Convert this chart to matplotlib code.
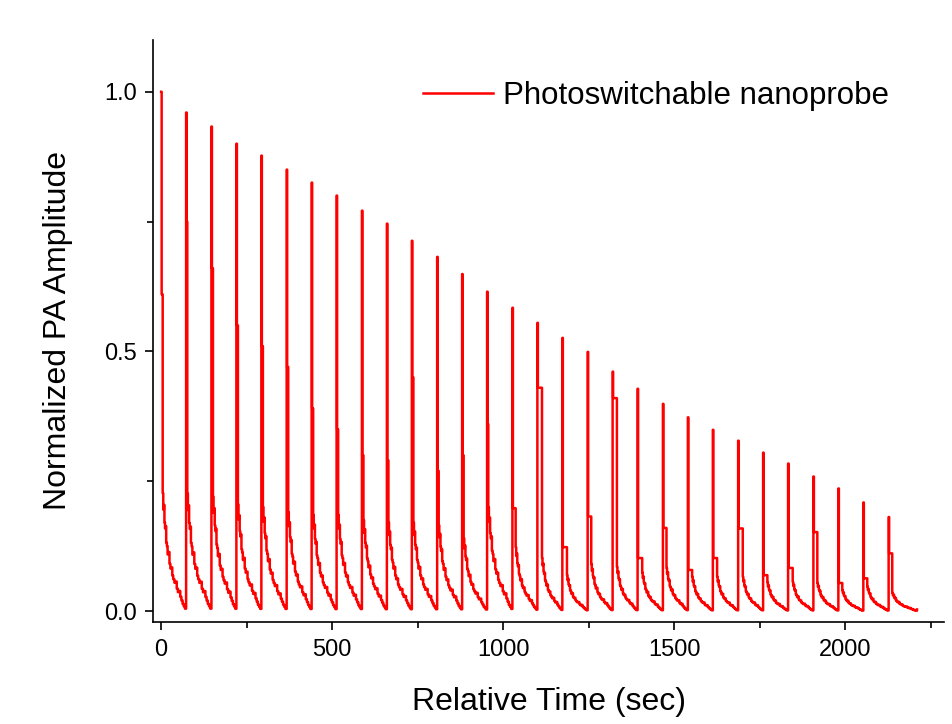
import numpy as np
import matplotlib
matplotlib.use("Agg")
import matplotlib.pyplot as plt
from matplotlib.ticker import MultipleLocator

plt.rcParams['font.family'] = ['Liberation Sans', 'DejaVu Sans']

# ---- data ----
# time of each switching cycle peak (sec)
peak_times = [0, 73, 147, 220, 293, 367, 440, 513, 587, 660, 733, 807, 880, 953,
              1027, 1100, 1173, 1247, 1320, 1393, 1467, 1540, 1613, 1687, 1760,
              1833, 1907, 1980, 2053, 2127]
# normalized PA amplitude at each peak
peak_values = [1.000, 0.960, 0.933, 0.900, 0.877, 0.850, 0.825, 0.800, 0.771, 0.746,
               0.713, 0.682, 0.649, 0.615, 0.584, 0.555, 0.526, 0.499, 0.461, 0.428,
               0.399, 0.373, 0.349, 0.328, 0.305, 0.284, 0.259, 0.236, 0.209, 0.181]
# level right after the spike (shoulder) and how long it lasts (sec)
shoulder_values = [0.61, 0.75, 0.66, 0.55, 0.51, 0.47, 0.39, 0.35, 0.30, 0.29,
                   0.45, 0.27, 0.30, 0.36, 0.198, 0.43, 0.123, 0.182, 0.41, 0.102,
                   0.160, 0.079, 0.102, 0.159, 0.069, 0.083, 0.152, 0.054, 0.063, 0.111]
shoulder_secs = [3, 2, 3, 3, 3, 3, 3, 3, 3, 3,
                 3, 3, 3, 2, 8, 12, 12, 9, 11, 12,
                 9, 11, 11, 12, 11, 12, 10, 10, 10, 9]
# level at the start of the slow tail
knee_values = [0.227, 0.226, 0.220, 0.205, 0.200, 0.190, 0.185, 0.185, 0.175, 0.170,
               0.170, 0.165, 0.140, 0.200, 0.123, 0.102, 0.069, 0.090, 0.085, 0.074,
               0.083, 0.066, 0.066, 0.066, 0.055, 0.056, 0.054, 0.040, 0.047, 0.035]
# shape of the slow tail (fraction of remaining cycle time, fraction of knee level)
tail_pos = [0, .025, .05, .075, .10, .125, .15, .18, .21, .25, .29, .33, .37, .41,
            .45, .50, .55, .60, .65, .70, .75, .80, .85, .90, .95]
tail_rel = [1.00, 0.86, 0.90, 0.75, 0.70, 0.72, 0.58, 0.55, 0.48, 0.50, 0.40, 0.36,
            0.37, 0.30, 0.27, 0.24, 0.25, 0.19, 0.16, 0.17, 0.12, 0.09, 0.06, 0.04, 0.02]
end_time = 2210
end_value = 0.003

# ---- assemble the stepped trace ----
t_all, v_all = [], []
n = len(peak_times)
for i in range(n):
    t0 = peak_times[i]
    t1 = peak_times[i + 1] if i + 1 < n else end_time
    t_all += [t0, t0 + 1.5]
    v_all += [peak_values[i], shoulder_values[i]]
    ks = t0 + 1.5 + shoulder_secs[i]
    span = t1 - ks
    for p, r in zip(tail_pos, tail_rel):
        t_all.append(ks + p * span)
        v_all.append(knee_values[i] * r)
t_all.append(end_time)
v_all.append(end_value)

fig = plt.figure(figsize=(9.52, 7.24), dpi=100)
ax = fig.add_axes([0.161, 0.141, 0.831, 0.804])
ax.plot(t_all, v_all, color='#ff0000', lw=1.8, drawstyle='steps-post',
        label='Photoswitchable nanoprobe')

ax.set_xlim(-23, 2290)
ax.set_ylim(-0.021, 1.1)
for s in ['top', 'right']:
    ax.spines[s].set_visible(False)
for s in ['left', 'bottom']:
    ax.spines[s].set_linewidth(1.2)

ax.xaxis.set_major_locator(MultipleLocator(500))
ax.xaxis.set_minor_locator(MultipleLocator(250))
ax.yaxis.set_major_locator(MultipleLocator(0.5))
ax.yaxis.set_minor_locator(MultipleLocator(0.25))
ax.yaxis.set_major_formatter(matplotlib.ticker.FormatStrFormatter('%.1f'))
ax.tick_params(which='major', direction='out', length=6, width=1.2, labelsize=17, pad=6)
ax.tick_params(which='minor', direction='out', length=4, width=1.2)

ax.set_xlabel('Relative Time (sec)', fontsize=23, labelpad=19)
ax.set_ylabel('Normalized PA Amplitude', fontsize=23, labelpad=22)

ax.legend(loc='upper right', bbox_to_anchor=(0.93, 0.93), frameon=False,
          fontsize=22.5, handlelength=2.25, handletextpad=0.32,
          borderaxespad=0, borderpad=0)

fig.savefig('out.png', dpi=100, facecolor='white')
